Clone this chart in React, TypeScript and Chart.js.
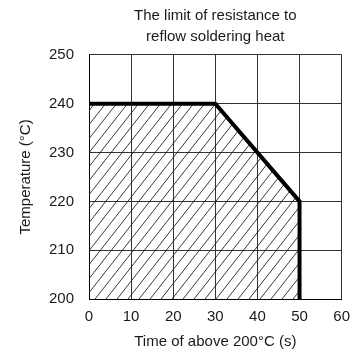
import React, { useEffect, useRef } from 'react';
import { Chart, registerables } from 'chart.js';

Chart.register(...registerables);

const titleLines = ['The limit of resistance to', 'reflow soldering heat'];
const xAxisTitle = 'Time of above 200°C (s)';
const yAxisTitle = 'Temperature (°C)';

const timeValues = [0, 30, 50, 50];
const tempValues = [240, 240, 220, 200];

const xMin = 0;
const xMax = 60;
const xStep = 10;
const yMin = 200;
const yMax = 250;
const yStep = 10;

const FONT = "'Liberation Sans Narrow', 'Arial Narrow', 'Liberation Sans', Arial, sans-serif";
const TEXT_COLOR = '#1a1a1a';

function makeHatch(): CanvasPattern | string {
  const w = 11;
  const h = 14;
  const c = document.createElement('canvas');
  c.width = w;
  c.height = h;
  const ctx = c.getContext('2d');
  if (!ctx) return 'rgba(0,0,0,0.1)';
  ctx.strokeStyle = '#222';
  ctx.lineWidth = 0.9;
  for (const dx of [-w, 0, w]) {
    ctx.beginPath();
    ctx.moveTo(dx, h);
    ctx.lineTo(dx + w, 0);
    ctx.stroke();
  }
  const p = ctx.createPattern(c, 'repeat');
  return p || 'rgba(0,0,0,0.1)';
}

export default function App() {
  const ref = useRef<HTMLCanvasElement | null>(null);

  useEffect(() => {
    if (!ref.current) return;
    const points = timeValues.map((t, i) => ({ x: t, y: tempValues[i] }));
    const font = { family: FONT, size: 15, lineHeight: 1.2 };
    const chart = new Chart(ref.current, {
      type: 'line',
      data: {
        datasets: [
          {
            data: points,
            borderColor: '#000',
            borderWidth: 4,
            pointRadius: 0,
            tension: 0,
            fill: 'start',
            backgroundColor: makeHatch() as any,
            borderCapStyle: 'butt',
            borderJoinStyle: 'miter',
          },
        ],
      },
      options: {
        responsive: false,
        animation: false,
        devicePixelRatio: 1,
        layout: { padding: { top: 0, right: 11, bottom: 0, left: 0 } },
        plugins: {
          legend: { display: false },
          tooltip: { enabled: false },
          title: {
            display: true,
            text: titleLines,
            fullSize: false,
            color: TEXT_COLOR,
            font: { family: FONT, size: 15, lineHeight: 1.43, weight: 'normal' },
            padding: { top: 5, bottom: 7 },
          },
        },
        scales: {
          x: {
            type: 'linear',
            min: xMin,
            max: xMax,
            ticks: { stepSize: xStep, padding: 9, color: TEXT_COLOR, font },
            grid: { color: '#333', lineWidth: 1, drawTicks: false },
            border: { color: '#000', width: 1 },
            title: {
              display: true,
              text: xAxisTitle,
              color: TEXT_COLOR,
              font,
              padding: { top: 0, bottom: 3 },
            },
            afterFit: (s: any) => {
              s.height = 55;
            },
          },
          y: {
            type: 'linear',
            min: yMin,
            max: yMax,
            ticks: { stepSize: yStep, padding: 15, color: TEXT_COLOR, font },
            grid: { color: '#333', lineWidth: 1, drawTicks: false },
            border: { color: '#000', width: 1 },
            title: {
              display: true,
              text: yAxisTitle,
              color: TEXT_COLOR,
              font,
              padding: { top: 17, bottom: 0 },
            },
            afterFit: (s: any) => {
              s.width = 89;
            },
          },
        },
      },
    });
    return () => chart.destroy();
  }, []);

  return (
    <div style={{ position: 'fixed', left: 0, top: 0, width: 359, height: 354, background: '#fff' }}>
      <canvas ref={ref} width={359} height={354} style={{ display: 'block', width: 359, height: 354 }} />
    </div>
  );
}
